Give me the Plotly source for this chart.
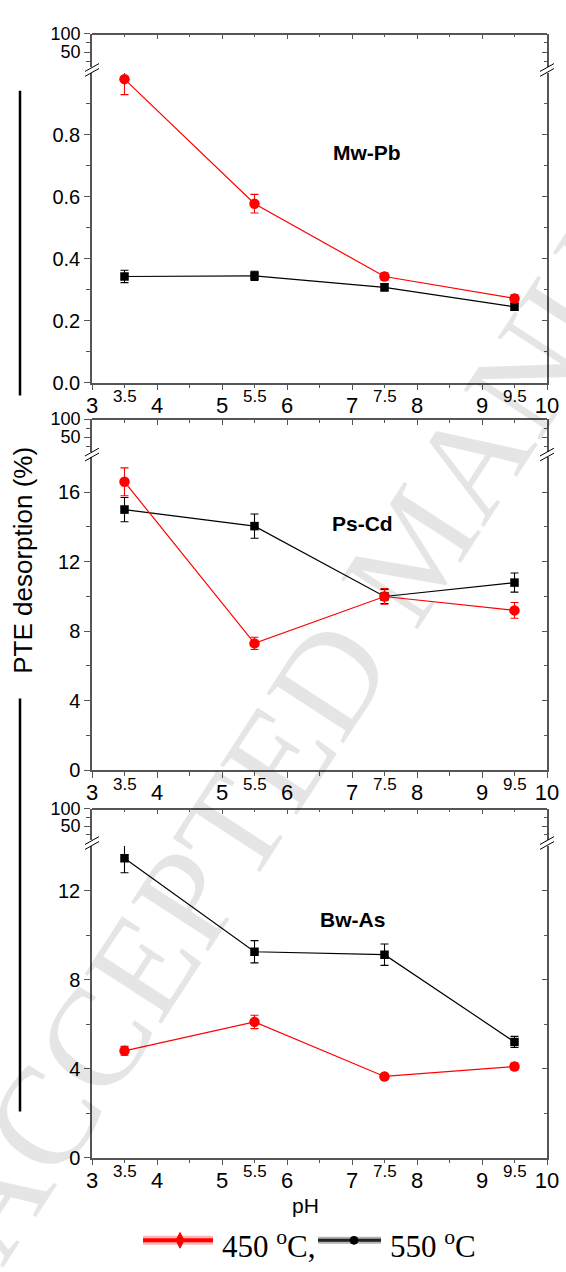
import plotly.graph_objects as go

W, H = 566, 1272
ML, MR = 92, 19
PW = W - ML - MR

# ---------------- data ----------------
ph = [3.5, 5.5, 7.5, 9.5]
ph_ticks = [3, 4, 5, 6, 7, 8, 9, 10]
panel_names = ["Mw-Pb", "Ps-Cd", "Bw-As"]

mwpb_450 = [0.98, 0.578, 0.343, 0.272]
mwpb_450_err = [0.05, 0.03, 0.012, 0.012]
mwpb_550 = [0.343, 0.345, 0.308, 0.245]
mwpb_550_err = [0.02, 0.015, 0.012, 0.01]

pscd_450 = [16.6, 7.3, 10.0, 9.2]
pscd_450_err = [0.8, 0.35, 0.45, 0.45]
pscd_550 = [15.0, 14.05, 10.0, 10.8]
pscd_550_err = [0.7, 0.7, 0.4, 0.55]

bwas_450 = [4.8, 6.1, 3.65, 4.1]
bwas_450_err = [0.2, 0.3, 0.1, 0.15]
bwas_550 = [13.45, 9.25, 9.12, 5.2]
bwas_550_err = [0.65, 0.5, 0.48, 0.25]

series_450 = [(mwpb_450, mwpb_450_err), (pscd_450, pscd_450_err), (bwas_450, bwas_450_err)]
series_550 = [(mwpb_550, mwpb_550_err), (pscd_550, pscd_550_err), (bwas_550, bwas_550_err)]

main_max = [1.0, 18, 14]
main_tickvals = [[0, 0.2, 0.4, 0.6, 0.8], [0, 4, 8, 12, 16], [0, 4, 8, 12]]
main_ticktext = [["0.0", "0.2", "0.4", "0.6", "0.8"], ["0", "4", "8", "12", "16"], ["0", "4", "8", "12"]]
main_minor = [[0.1, 0.3, 0.5, 0.7, 0.9], [2, 6, 10, 14], [2, 6, 10]]
top_range = [10, 100]
top_tickvals = [50, 100]
top_ticktext = ["50", "100"]
top_minor = [25, 75]
half_labels = ["3.5", "5.5", "7.5", "9.5"]

# ---------------- layout geometry (pixels) ----------------
# (top segment top, top segment bottom, main top, main bottom)
geom = [(24, 58, 64, 379), (416, 449, 455, 773), (812, 844, 850, 1167)]
label_pos = [(367, 145), (362, 522), (352, 925)]


def yp(py):
    return 1 - py / H


def xp(px):
    return (px - ML) / PW


AXC = "#555555"
FONT = "Arial, Liberation Sans, sans-serif"
SERIF = "Times New Roman, Liberation Serif, serif"

fig = go.Figure()
layout = {}
shapes = []
annotations = []


def an(kind, i):
    return kind + ("" if i == 1 else str(i))


def note(x, y, text, size, family=FONT, **kw):
    d = dict(x=x, y=y, xref="paper", yref="paper", text=text, showarrow=False,
             xanchor="center", yanchor="middle", font=dict(family=family, size=size, color="black"))
    d.update(kw)
    annotations.append(d)


for p in range(3):
    tt, tb, mt, mb = geom[p]
    xi_b, xi_t = 2 * p + 1, 2 * p + 2
    yi_m, yi_t, yi_rm, yi_rt = 4 * p + 1, 4 * p + 2, 4 * p + 3, 4 * p + 4

    layout[an("xaxis", xi_b)] = dict(
        domain=[0, 1], anchor=an("y", yi_m), range=[3, 10],
        tickvals=ph_ticks, ticks="outside", ticklen=6, tickwidth=1.2, tickcolor=AXC,
        minor=dict(tickvals=[v + 0.5 for v in ph_ticks[:-1]], ticks="outside", ticklen=4,
                   tickwidth=1.2, tickcolor=AXC),
        showline=True, linecolor=AXC, linewidth=1.5, showgrid=False, zeroline=False,
        tickfont=dict(family=FONT, size=22, color="black"), ticklabelstandoff=-4,
    )
    layout[an("xaxis", xi_t)] = dict(
        overlaying=an("x", xi_b), anchor="free", position=yp(tt), side="top", range=[3, 10],
        tickvals=ph_ticks, ticks="inside", ticklen=5, tickwidth=1.2, tickcolor=AXC,
        minor=dict(tickvals=[v + 0.5 for v in ph_ticks[:-1]], ticks="inside", ticklen=3,
                   tickwidth=1.2, tickcolor=AXC),
        showticklabels=False, showline=True, linecolor=AXC, linewidth=1.5,
        showgrid=False, zeroline=False,
    )
    common_y = dict(showline=True, linecolor=AXC, linewidth=1.5, showgrid=False, zeroline=False,
                    tickwidth=1.2, tickcolor=AXC)
    layout[an("yaxis", yi_m)] = dict(
        domain=[yp(mb), yp(mt)], anchor=an("x", xi_b), range=[0, main_max[p]],
        tickvals=main_tickvals[p], ticktext=main_ticktext[p], ticks="outside", ticklen=6,
        minor=dict(tickvals=main_minor[p], ticks="outside", ticklen=4, tickwidth=1.2, tickcolor=AXC),
        tickfont=dict(family=FONT, size=20, color="black"), **common_y,
    )
    layout[an("yaxis", yi_t)] = dict(
        domain=[yp(tb), yp(tt)], anchor=an("x", xi_b), range=top_range,
        tickvals=top_tickvals, ticktext=top_ticktext, ticks="outside", ticklen=6,
        minor=dict(tickvals=top_minor, ticks="outside", ticklen=4, tickwidth=1.2, tickcolor=AXC),
        tickfont=dict(family=FONT, size=18, color="black"), **common_y,
    )
    layout[an("yaxis", yi_rm)] = dict(
        overlaying=an("y", yi_m), side="right", anchor=an("x", xi_b), range=[0, main_max[p]],
        tickvals=main_tickvals[p], ticks="inside", ticklen=5, showticklabels=False,
        minor=dict(tickvals=main_minor[p], ticks="inside", ticklen=3, tickwidth=1.2, tickcolor=AXC),
        **common_y,
    )
    layout[an("yaxis", yi_rt)] = dict(
        overlaying=an("y", yi_t), side="right", anchor=an("x", xi_b), range=top_range,
        tickvals=top_tickvals, ticks="inside", ticklen=5, showticklabels=False,
        minor=dict(tickvals=top_minor, ticks="inside", ticklen=3, tickwidth=1.2, tickcolor=AXC),
        **common_y,
    )

    # empty carrier traces so that every axis (segment / mirror) is drawn
    for xa, ya in ((xi_b, yi_t), (xi_t, yi_t), (xi_b, yi_rm), (xi_b, yi_rt)):
        fig.add_trace(go.Scatter(x=[None], y=[None], xaxis=an("x", xa), yaxis=an("y", ya),
                                 mode="markers", showlegend=False, hoverinfo="skip"))

    v550, e550 = series_550[p]
    v450, e450 = series_450[p]
    fig.add_trace(go.Scatter(
        x=ph, y=v550, mode="lines+markers", xaxis=an("x", xi_b), yaxis=an("y", yi_m),
        line=dict(color="black", width=1.2),
        marker=dict(symbol="square", size=8.5, color="black"),
        error_y=dict(type="data", array=e550, color="black", thickness=1.1, width=4),
        showlegend=False,
    ))
    fig.add_trace(go.Scatter(
        x=ph, y=v450, mode="lines+markers", xaxis=an("x", xi_b), yaxis=an("y", yi_m),
        line=dict(color="red", width=1.2),
        marker=dict(symbol="circle", size=10.5, color="red"),
        error_y=dict(type="data", array=e450, color="red", thickness=1.1, width=4),
        showlegend=False,
    ))

    for v, t in zip(ph, half_labels):
        annotations.append(dict(x=v, xref=an("x", xi_b), y=yp(mb + 14), yref="paper",
                                text=t, showarrow=False, xanchor="center", yanchor="middle",
                                font=dict(family=FONT, size=17, color="black")))

    lx, ly = label_pos[p]
    note(xp(lx), yp(ly), "<b>%s</b>" % panel_names[p], 21)

    gy = (tb + mt) / 2
    for ax_px in (ML, ML + PW):
        for off in (-2.5, 2.5):
            shapes.append(dict(type="line", xref="paper", yref="paper",
                               x0=xp(ax_px - 7), y0=yp(gy + off + 4),
                               x1=xp(ax_px + 7), y1=yp(gy + off - 4),
                               line=dict(color="black", width=1)))

# y title and side bars
note(xp(23), yp(560), "PTE desorption (%)", 26, textangle=-90)
for y0, y1 in ((82, 392), (700, 1120)):
    shapes.append(dict(type="line", xref="paper", yref="paper", x0=xp(20), x1=xp(20),
                       y0=yp(y0), y1=yp(y1), line=dict(color="black", width=2.5)))

# pH label
note(xp(305), yp(1216), "pH", 21)

# legend (image-like)
LY = 1251
shapes.append(dict(type="line", xref="paper", yref="paper", x0=xp(143), x1=xp(213), y0=yp(LY), y1=yp(LY),
                   line=dict(color="rgba(255,0,0,0.3)", width=9)))
shapes.append(dict(type="line", xref="paper", yref="paper", x0=xp(143), x1=xp(213), y0=yp(LY), y1=yp(LY),
                   line=dict(color="red", width=4)))
shapes.append(dict(type="path", xref="paper", yref="paper",
                   path="M %f %f L %f %f L %f %f L %f %f Z" % (xp(180), yp(LY - 8), xp(184), yp(LY),
                                                              xp(180), yp(LY + 8), xp(176), yp(LY)),
                   fillcolor="red", line=dict(color="red", width=1)))
shapes.append(dict(type="line", xref="paper", yref="paper", x0=xp(318), x1=xp(381), y0=yp(LY), y1=yp(LY),
                   line=dict(color="rgba(0,0,0,0.3)", width=7)))
shapes.append(dict(type="line", xref="paper", yref="paper", x0=xp(318), x1=xp(381), y0=yp(LY), y1=yp(LY),
                   line=dict(color="#222222", width=3)))
shapes.append(dict(type="circle", xref="paper", yref="paper", x0=xp(350), x1=xp(358),
                   y0=yp(LY + 4), y1=yp(LY - 4), fillcolor="black", line=dict(color="black", width=1)))
note(xp(220), yp(1255), "450 <sup>o</sup>C,", 31, family=SERIF, xanchor="left")
note(xp(388), yp(1255), "550 <sup>o</sup>C", 31, family=SERIF, xanchor="left")

# watermark
note(xp(415), yp(546), "ACCEPTED MANUSCRIPT", 140, family=SERIF, textangle=-57)
annotations[-1]["font"]["color"] = "rgba(0,0,0,0.10)"

fig.update_layout(
    width=W, height=H, margin=dict(l=ML, r=MR, t=0, b=0),
    paper_bgcolor="white", plot_bgcolor="white", showlegend=False,
    shapes=shapes, annotations=annotations, **layout,
)

fig.write_html("out.html")
